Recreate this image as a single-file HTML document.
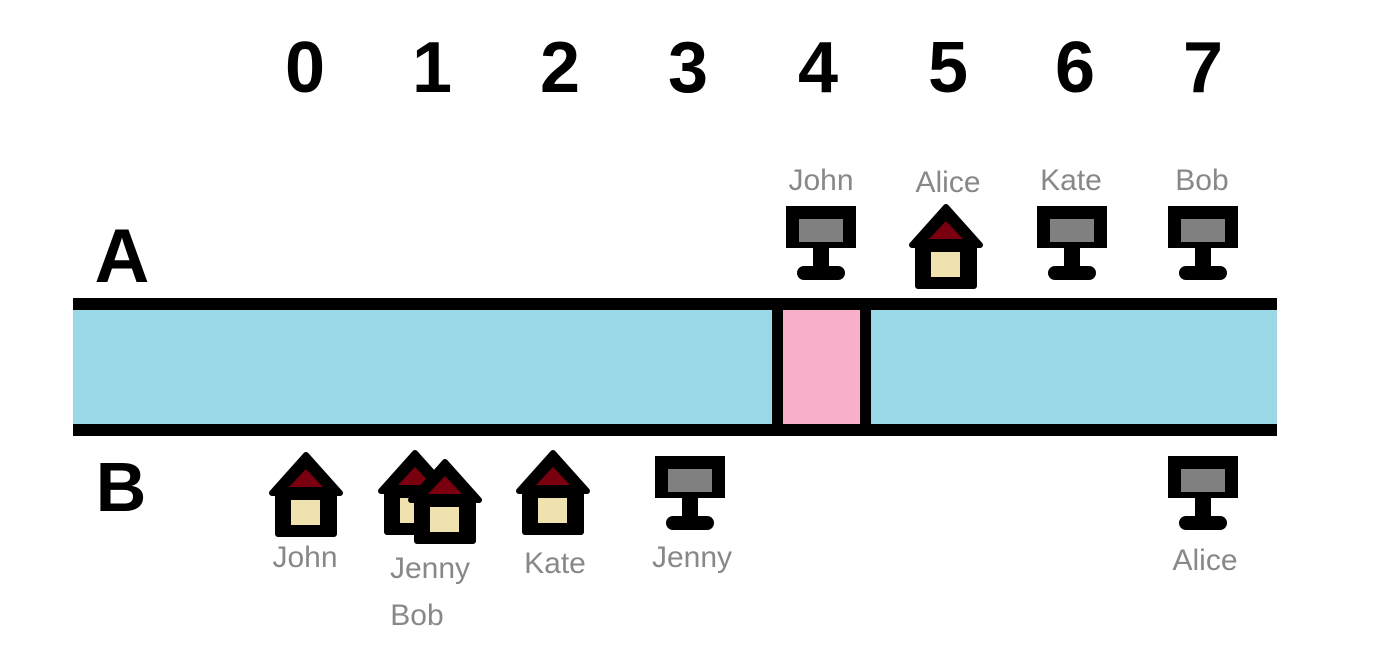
<!DOCTYPE html>
<html><head><meta charset="utf-8"><style>
html,body{margin:0;padding:0;background:#fff;}
svg{display:block;}
.n{font-family:"Liberation Sans",sans-serif;font-weight:bold;font-size:72px;fill:#000;text-anchor:middle;}
.l{font-family:"Liberation Sans",sans-serif;font-size:30px;fill:#888;text-anchor:middle;}
</style></head><body>
<svg width="1380" height="658" viewBox="0 0 1380 658" xmlns="http://www.w3.org/2000/svg">
<defs>
<g id="house">
<polygon points="0,0 34,38 28,38 28,79 -28,79 -28,38 -34,38" fill="#000" stroke="#000" stroke-width="6" stroke-linejoin="round"/>
<polygon points="0,14 17,32 -17,32" fill="#7a0010"/>
<rect x="-15" y="45" width="29" height="25" fill="#efe2ae"/>
</g>
<g id="pc">
<rect x="-35" y="0" width="70" height="42" fill="#000"/>
<rect x="-22" y="13" width="44" height="23" fill="#808080"/>
<rect x="-8" y="40" width="16" height="24" fill="#000"/>
<rect x="-24" y="60" width="48" height="14" rx="7" fill="#000"/>
</g>
</defs>
<g class="n">
<text x="305" y="92">0</text><text x="432" y="92">1</text><text x="560" y="92">2</text><text x="688" y="92">3</text>
<text x="818" y="92">4</text><text x="948" y="92">5</text><text x="1075" y="92">6</text><text x="1203" y="92">7</text>
<text x="122" y="282" font-size="76">A</text>
<text x="121" y="511" font-size="70">B</text>
</g>
<rect x="73" y="304" width="1204" height="126" fill="#9ad8e8"/>
<rect x="778" y="304" width="88" height="126" fill="#f9aecb"/>
<rect x="73" y="298" width="1204" height="12" fill="#000"/>
<rect x="73" y="424" width="1204" height="12" fill="#000"/>
<rect x="772" y="304" width="11" height="126" fill="#000"/>
<rect x="860" y="304" width="11" height="126" fill="#000"/>
<use href="#pc" x="821" y="206"/>
<use href="#house" x="946" y="207"/>
<use href="#pc" x="1072" y="206"/>
<use href="#pc" x="1203" y="206"/>
<use href="#house" x="306" y="455"/>
<use href="#house" x="415" y="453"/>
<use href="#house" x="445" y="462"/>
<use href="#house" x="553" y="453"/>
<use href="#pc" x="690" y="456"/>
<use href="#pc" x="1203" y="456"/>
<g class="l">
<text x="821" y="190">John</text><text x="948" y="192">Alice</text><text x="1071" y="190">Kate</text><text x="1202" y="190">Bob</text>
<text x="305" y="567">John</text><text x="430" y="578">Jenny</text><text x="417" y="625">Bob</text>
<text x="555" y="573">Kate</text><text x="692" y="567">Jenny</text><text x="1205" y="570">Alice</text>
</g>
</svg>
</body></html>
